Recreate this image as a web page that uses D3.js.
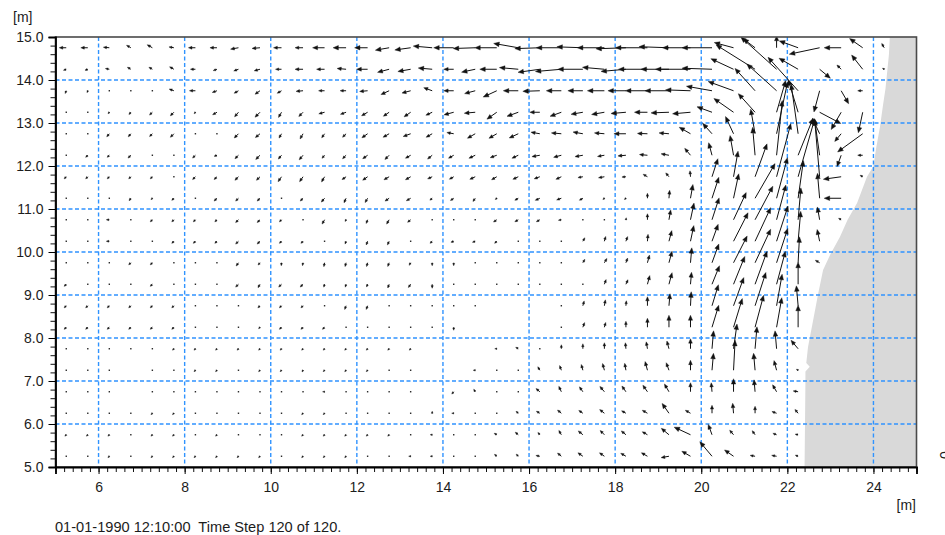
<!DOCTYPE html>
<html>
<head>
<meta charset="utf-8">
<script src="https://cdn.jsdelivr.net/npm/d3@7"></script>
<style>
  html, body { margin: 0; padding: 0; background: #fff; overflow: hidden; }
  svg text { font-family: "Liberation Sans", Arial, sans-serif; font-size: 14px; fill: #1c1c1c; }
</style>
</head>
<body>
<svg id="chart" width="945" height="535"></svg>
<script>
// Computational grid nodes (m)
const nodeX = [5.25, 5.75, 6.25, 6.75, 7.25, 7.75, 8.25, 8.75, 9.25, 9.75,
               10.25, 10.75, 11.25, 11.75, 12.25, 12.75, 13.25, 13.75, 14.25, 14.75,
               15.25, 15.75, 16.25, 16.75, 17.25, 17.75, 18.25, 18.75, 19.25, 19.75,
               20.25, 20.75, 21.25, 21.75, 22.25, 22.75, 23.25, 23.75, 24.25, 24.75];
const nodeY = [14.75, 14.25, 13.75, 13.25, 12.75, 12.25, 11.75, 11.25, 10.75, 10.25,
               9.75, 9.25, 8.75, 8.25, 7.75, 7.25, 6.75, 6.25, 5.75, 5.25];

// Current speed (cm/s), one row per nodeY, wet nodes only (from the west)
const speedRows = [
  [7,7,6,5,6,5, 7,7,8,8,8,8, 12,13,13,14,16,19, 20,22,22,25,25,25, 26,27,30,32,30,28, 30,20,15,12,20,31, 17,16,5],
  [3,3,4,4,4,5, 5,4,5,6,6,8, 8,9,11,12,13,14, 10,14,17,19,22,26, 25,22,25,29,28,35, 30,25,46,48,22,14, 6,18,2],
  [3,2,1,1,1,5, 6,5,5,6,5,7, 6,6,8,9,9,9, 10,11,15,15,17,15, 15,17,18,22,24,25, 26,27,30,40,45,22, 15,5],
  [1,1,2,3,4,5, 2,5,6,7,6,6, 6,6,7,7,8,7, 10,11,12,12,10,12, 12,13,15,13,18,18, 16,24,25,33,34,24, 20,21],
  [1,1,4,4,4,5, 1,1,6,6,5,6, 5,5,7,7,8,7, 7,9,9,10,9,10, 10,10,12,10,10,13, 14,19,25,53,50,17, 10,31],
  [1,3,3,4,1,1, 4,3,5,6,5,6, 4,5,6,6,6,6, 6,7,7,7,8,8, 8,7,8,8,8,9, 13,20,28,55,40,37, 12,5],
  [3,3,3,3,3,1, 4,4,5,5,6,6, 6,5,6,6,6,5, 5,6,6,6,6,6, 5,6,4,5,5,6, 19,26,35,55,60,57, 18,3],
  [1,1,1,3,2,3, 1,4,4,4,1,4, 5,5,5,5,5,3, 4,4,2,4,5,5, 4,2,2,5,8,14, 22,25,40,42,38,25, 17],
  [1,1,3,1,3,3, 3,3,4,4,3,1, 5,2,4,5,4,1, 1,1,4,4,4,3, 1,1,2,6,10,17, 23,30,38,36,32,13, 3],
  [1,1,3,1,1,3, 3,3,4,4,3,3, 1,3,4,4,1,3, 3,3,3,1,1,1, 4,5,5,7,11,16, 18,32,37,37,30,12],
  [1,1,1,3,3,1, 1,1,4,3,3,3, 4,4,4,4,3,3, 3,1,1,1,1,1, 4,5,5,8,12,15, 20,30,37,36,26,5],
  [3,1,1,1,3,1, 1,1,4,4,4,4, 3,3,3,4,4,4, 1,1,1,0.5,1,1, 1,5,5,9,12,12, 20,30,35,34,22],
  [3,3,3,3,3,3, 1,1,1,3,3,3, 1,4,4,1,1,1, 1,1,0,0,0,1, 5,6,5,9,12,14, 22,30,35,32,20],
  [3,3,3,3,3,3, 1,1,1,2,3,3, 3,1,1,1,1,1, 3,0,0,0,0,1, 5,5,6,9,12,12, 23,30,33,30,22],
  [1,1,1,1,1,2, 2,2,2,2,2,2, 2,2,2,2,2,0, 0,0,2,3,1,4, 5,6,6,7,8,10, 18,25,22,18,11],
  [1,1,1,0,1,1, 2,2,1,2,2,2, 2,2,2,1,1,0, 0,2,1,1,4,5, 6,7,7,9,8,10, 17,30,17,10,2],
  [1,1,1,0,1,1, 1,1,1,1,1,1, 2,1,1,1,1,0, 3,3,1,1,5,6, 6,7,7,8,9,9, 9,13,12,8,5],
  [1,1,1,1,2,2, 1,1,1,1,1,2, 2,1,1,1,1,2, 2,1,1,3,4,5, 5,6,5,6,12,6, 8,10,7,5,5],
  [2,2,2,1,2,2, 1,2,1,1,1,2, 2,2,2,2,1,2, 1,1,3,4,3,5, 6,6,6,6,10,18, 11,6,5,4,3],
  [1,1,2,1,2,2, 2,2,2,2,1,2, 2,2,1,1,2,2, 1,1,3,3,4,5, 6,6,6,7,8,10, 19,11,5,5,3]
];

// Current direction (degrees clockwise from north, direction of travel)
const directionRows = [
  [270,270,275,300,300,280, 270,270,260,265,270,270, 270,270,270,260,262,275, 270,268,270,280,268,270, 272,270,268,270,272,270, 270,285,307,0,290,258, 270,305,330],
  [250,250,280,300,300,300, 270,250,250,255,270,270, 270,275,270,255,260,275, 270,258,270,275,262,265, 270,275,265,270,270,270, 272,295,302,312,300,130, 315,322,300],
  [200,200,200,200,200,290, 270,250,240,235,240,265, 270,270,265,245,255,290, 270,255,245,270,268,270, 270,270,270,270,270,272, 280,290,318,312,318,195, 150,270],
  [220,220,220,220,225,225, 220,240,220,225,210,225, 255,250,240,235,235,245, 255,265,235,250,270,250, 260,260,265,270,268,265, 290,305,318,16,343,118, 210,192],
  [220,220,220,220,225,225, 220,220,225,230,210,210, 215,225,235,240,250,240, 280,240,240,245,280,275, 280,275,270,272,275,300, 318,335,350,12,352,335, 220,234],
  [220,225,225,225,220,220, 225,250,225,225,220,220, 220,225,235,225,240,230, 240,245,250,245,260,255, 260,260,265,275,280,320, 345,350,355,6,22,352, 200,270],
  [225,225,225,225,225,225, 225,225,225,225,215,215, 210,235,235,240,240,245, 240,245,240,245,250,245, 260,260,265,300,320,355, 18,10,20,15,16,355, 262,300],
  [225,225,225,215,225,225, 225,225,225,225,225,225, 220,205,210,235,240,230, 235,215,230,240,245,250, 240,230,230,0,5,10, 18,12,30,15,8,355, 270],
  [225,225,270,225,225,225, 225,225,225,225,225,225, 210,210,200,210,230,220, 220,220,235,240,240,260, 30,30,10,0,10,12, 18,25,28,15,5,350, 300],
  [225,225,270,225,225,225, 225,225,225,225,225,225, 225,200,200,205,220,225, 250,250,225,220,220,220, 30,15,20,5,15,12, 20,27,25,18,5,348],
  [225,225,225,225,225,225, 225,225,215,220,185,190, 190,195,195,200,210,180, 180,200,200,200,200,30, 30,30,20,15,15,5, 20,27,25,18,3,300],
  [225,225,225,225,225,225, 225,225,225,210,225,225, 195,195,200,200,215,180, 200,200,200,200,200,30, 30,20,25,15,15,5, 22,22,20,15,0],
  [225,225,225,225,225,225, 225,225,225,225,225,225, 225,200,200,200,200,200, 200,200,0,0,0,20, 15,10,5,0,5,3, 17,20,18,10,355],
  [225,225,225,225,225,225, 225,225,225,225,225,225, 225,225,225,225,225,225, 180,0,0,0,0,10, 20,15,0,0,0,0, 17,17,15,10,0],
  [225,225,225,225,225,225, 225,225,225,225,225,225, 225,225,225,225,225,0, 0,0,270,300,300,0, 0,0,355,350,345,0, 5,8,5,355,320],
  [225,225,225,0,225,225, 225,225,225,225,225,210, 225,225,225,225,225,0, 0,270,270,300,330,340, 345,345,350,345,340,0, 5,3,355,345,300],
  [225,225,225,0,225,225, 225,225,225,225,225,225, 270,225,225,225,225,0, 220,330,300,300,310,335, 325,320,325,325,330,0, 355,0,355,330,280],
  [225,225,225,225,225,225, 225,225,225,225,225,225, 225,225,225,225,225,0, 270,300,300,310,300,310, 305,308,300,300,325,300, 0,355,0,290,320],
  [225,225,225,225,225,225, 225,225,225,225,225,225, 225,225,225,225,225,270, 300,300,300,310,320,330, 310,315,310,300,310,295, 340,320,325,290,280],
  [225,225,225,225,225,225, 225,225,225,225,225,225, 225,225,225,225,270,270, 300,300,310,315,280,310, 305,305,300,300,260,300, 320,305,280,280,290]
];

// Axis tick labels
const xTickValues = [6, 8, 10, 12, 14, 16, 18, 20, 22, 24];
const yTickValues = [5, 6, 7, 8, 9, 10, 11, 12, 13, 14, 15];
const xGridValues = [6, 8, 10, 12, 14, 16, 18, 20, 22, 24];
const yGridValues = [6, 7, 8, 9, 10, 11, 12, 13, 14];

// Dry land outline (m), shoreline from north to south, closed along the east edge
const landOutline = [
  [24.38, 15.0], [24.36, 14.6], [24.32, 14.2], [24.28, 13.8], [24.22, 13.4],
  [24.15, 12.9], [24.06, 12.4], [24.0, 12.0], [23.85, 11.75], [23.62, 11.14],
  [23.4, 10.75], [23.22, 10.35], [23.0, 9.95], [22.83, 9.58], [22.71, 9.0],
  [22.6, 8.42], [22.48, 7.79], [22.44, 7.42], [22.52, 7.33], [22.42, 7.22],
  [22.42, 7.0], [22.40, 5.0], [25.0, 5.0], [25.0, 15.0]
];

const timeLabel = "01-01-1990 12:10:00  Time Step 120 of 120.";
const unitLabel = "[m]";

// ---------------------------------------------------------------------------
const svg = d3.select("#chart");
const plot = { left: 55.5, right: 916.5, top: 37, bottom: 467 };

const x = d3.scaleLinear().domain([5, 25]).range([plot.left, plot.right]);
const y = d3.scaleLinear().domain([5, 15]).range([plot.bottom, plot.top]);
// arrow length on screen: 1 px per cm/s
const arrowLen = d3.scaleLinear().domain([0, 10]).range([0, 10]);

svg.append("defs").append("clipPath").attr("id", "plotClip")
  .append("rect")
  .attr("x", plot.left).attr("y", plot.top)
  .attr("width", plot.right - plot.left).attr("height", plot.bottom - plot.top);

// land
svg.append("path")
  .datum(landOutline)
  .attr("clip-path", "url(#plotClip)")
  .attr("fill", "#d9d9d9")
  .attr("stroke", "none")
  .attr("d", d3.line().x(d => x(d[0])).y(d => y(d[1])));

// dashed grid
const grid = svg.append("g").attr("stroke", "#2f93ff").attr("stroke-width", 1.4)
  .attr("stroke-dasharray", "4,2.5").attr("fill", "none");
grid.selectAll("line.gx").data(xGridValues).join("line").attr("class", "gx")
  .attr("x1", d => x(d)).attr("x2", d => x(d))
  .attr("y1", plot.top).attr("y2", plot.bottom);
grid.selectAll("line.gy").data(yGridValues).join("line").attr("class", "gy")
  .attr("y1", d => y(d)).attr("y2", d => y(d))
  .attr("x1", plot.left).attr("x2", plot.right);

// vectors
const arrows = [];
speedRows.forEach((row, r) => {
  row.forEach((s, c) => {
    const dir = directionRows[r][c] * Math.PI / 180;
    const u = s * Math.sin(dir), v = s * Math.cos(dir);
    arrows.push({ x0: x(nodeX[c]), y0: y(nodeY[r]), dx: arrowLen(u), dy: -arrowLen(v), len: arrowLen(s) });
  });
});

const vec = svg.append("g").attr("clip-path", "url(#plotClip)");
arrows.forEach(a => {
  if (a.len < 0.4) return;
  if (a.len < 1.6) {
    vec.append("rect").attr("x", a.x0 - 0.7).attr("y", a.y0 - 0.7)
      .attr("width", 1.4).attr("height", 1.4).attr("fill", "#222");
    return;
  }
  const ux = a.dx / a.len, uy = a.dy / a.len;
  const hx = a.x0 + a.dx, hy = a.y0 + a.dy;
  const hl = Math.min(5.5, 1.4 + a.len * 0.3);
  const hw = hl * 0.42;
  const bx = hx - ux * hl, by = hy - uy * hl;
  vec.append("line")
    .attr("x1", a.x0).attr("y1", a.y0).attr("x2", bx + ux * 0.5).attr("y2", by + uy * 0.5)
    .attr("stroke", "#111").attr("stroke-width", 1);
  vec.append("path")
    .attr("d", `M${hx},${hy}L${bx - uy * hw},${by + ux * hw}L${bx + uy * hw},${by - ux * hw}Z`)
    .attr("fill", "#111").attr("stroke", "#111").attr("stroke-width", 0.4);
});

// frame
svg.append("rect")
  .attr("x", plot.left).attr("y", plot.top)
  .attr("width", plot.right - plot.left).attr("height", plot.bottom - plot.top)
  .attr("fill", "none").attr("stroke", "#4a4a4a").attr("stroke-width", 1.6);

// axes: minor ticks every 0.2 m, labelled majors
const minorX = d3.range(5, 25.001, 0.2);
const minorY = d3.range(5, 15.001, 0.2);

svg.append("g").attr("transform", `translate(0,${plot.bottom})`)
  .call(d3.axisBottom(x).tickValues(minorX).tickSize(5).tickFormat(""))
  .call(g => g.select(".domain").remove())
  .call(g => g.selectAll("line").attr("stroke", "#111"));
svg.append("g").attr("transform", `translate(${plot.left},0)`)
  .call(d3.axisLeft(y).tickValues(minorY).tickSize(5).tickFormat(""))
  .call(g => g.select(".domain").remove())
  .call(g => g.selectAll("line").attr("stroke", "#111"));

const xAxis = svg.append("g").attr("transform", `translate(0,${plot.bottom})`)
  .call(d3.axisBottom(x).tickValues(xTickValues).tickSize(7).tickPadding(8).tickFormat(d3.format("d")));
xAxis.select(".domain").attr("stroke", "#000").attr("stroke-width", 1.8);
xAxis.selectAll("line").attr("stroke", "#000");
xAxis.selectAll("text").attr("font-size", null).attr("font-family", null).attr("fill", null);

const yAxis = svg.append("g").attr("transform", `translate(${plot.left},0)`)
  .call(d3.axisLeft(y).tickValues(yTickValues).tickSize(7).tickPadding(5).tickFormat(d3.format(".1f")));
yAxis.select(".domain").attr("stroke", "#000").attr("stroke-width", 1.8);
yAxis.selectAll("line").attr("stroke", "#000");
yAxis.selectAll("text").attr("font-size", null).attr("font-family", null).attr("fill", null);
xAxis.attr("font-size", null).attr("font-family", null);
yAxis.attr("font-size", null).attr("font-family", null);

// unit labels and time stamp
svg.append("text").attr("x", 13).attr("y", 22).text(unitLabel);
svg.append("text").attr("x", 916).attr("y", 510).attr("text-anchor", "end").text(unitLabel);
svg.append("text").attr("x", 55).attr("y", 532).style("white-space", "pre")
  .style("font-size", "14.6px").text(timeLabel);

// edge of the colour legend caption, cut by the page border
svg.append("text").attr("transform", "translate(950,455) rotate(-90)")
  .attr("text-anchor", "middle").text("0");
</script>
</body>
</html>
